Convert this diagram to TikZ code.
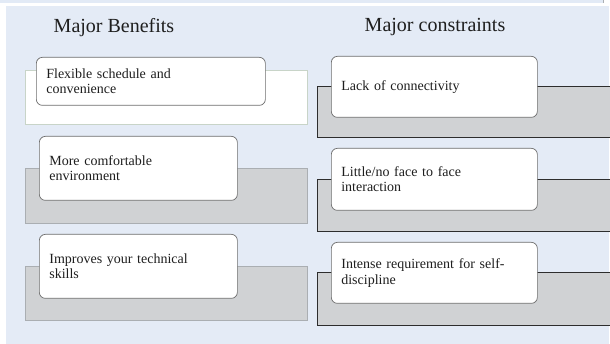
\documentclass[tikz,border=0pt]{standalone}
\usepackage{fontspec}
\setmainfont{Liberation Serif}
\definecolor{panelbg}{RGB}{228,235,246}
\definecolor{stripbg}{RGB}{226,234,246}
\definecolor{grayfill}{RGB}{208,210,212}
\definecolor{grayline}{RGB}{170,174,178}
\definecolor{lightline}{RGB}{200,212,200}
\definecolor{boxline}{RGB}{110,110,110}
\definecolor{darkline}{RGB}{45,45,45}
\definecolor{txt}{RGB}{30,30,30}
\tikzset{
  x=1pt, y=-1pt,
  itembox/.style={draw=boxline, line width=0.7pt, fill=white, rounded corners=6pt,
    inner xsep=10pt, inner ysep=0pt, align=left, anchor=north west,
    font=\fontsize{14}{15.5}\selectfont, text=txt},
  titletext/.style={font=\fontsize{20}{22}\selectfont, text=txt, anchor=center},
  leftband/.style={fill=grayfill, draw=grayline, line width=0.6pt},
  rightedge/.style={draw=darkline, line width=0.8pt},
}
\begin{document}
\begin{tikzpicture}
\useasboundingbox (0,0) rectangle (610,344);
\fill[white] (0,0) rectangle (610,344);
% top strip
\fill[stripbg] (0,0) rectangle (603,3.5);
\draw[grayline, line width=0.8pt] (603,0) -- (603,3.5);
% main panel
\fill[panelbg] (6,6) rectangle (609,344);
% titles
\node[titletext] (tb) at (114,28) {Major Benefits};
\node[titletext] (tc) at (435,27) {Major constraints};
% left bands
\draw[fill=white, draw=lightline, line width=0.6pt] (25,70) rectangle (307,124);
\draw[leftband] (25,168) rectangle (307,223);
\draw[leftband] (25,266) rectangle (307,320);
% right bands (open to the right edge)
\fill[grayfill] (317,86) rectangle (614,137);
\draw[rightedge] (614,86) -- (317,86) -- (317,137) -- (614,137);
\fill[grayfill] (317,179) rectangle (614,231);
\draw[rightedge] (614,179) -- (317,179) -- (317,231) -- (614,231);
\fill[grayfill] (317,272) rectangle (614,325);
\draw[rightedge] (614,272) -- (317,272) -- (317,325) -- (614,325);
% left boxes
\node[itembox, text width=209pt, minimum height=48pt] (b1) at (36,57) {Flexible schedule and\\convenience};
\node[itembox, text width=178pt, minimum height=64pt] (b2) at (39,136) {More comfortable\\environment};
\node[itembox, text width=178pt, minimum height=64pt] (b3) at (39,234) {Improves your technical\\skills};
% right boxes
\node[itembox, text width=186pt, minimum height=61pt] (c1) at (331,56) {Lack of connectivity};
\node[itembox, text width=186pt, minimum height=62pt] (c2) at (331,148) {Little/no face to face\\interaction};
\node[itembox, text width=186pt, minimum height=61pt] (c3) at (331,242) {Intense requirement for self-\\discipline};
\end{tikzpicture}
\end{document}
